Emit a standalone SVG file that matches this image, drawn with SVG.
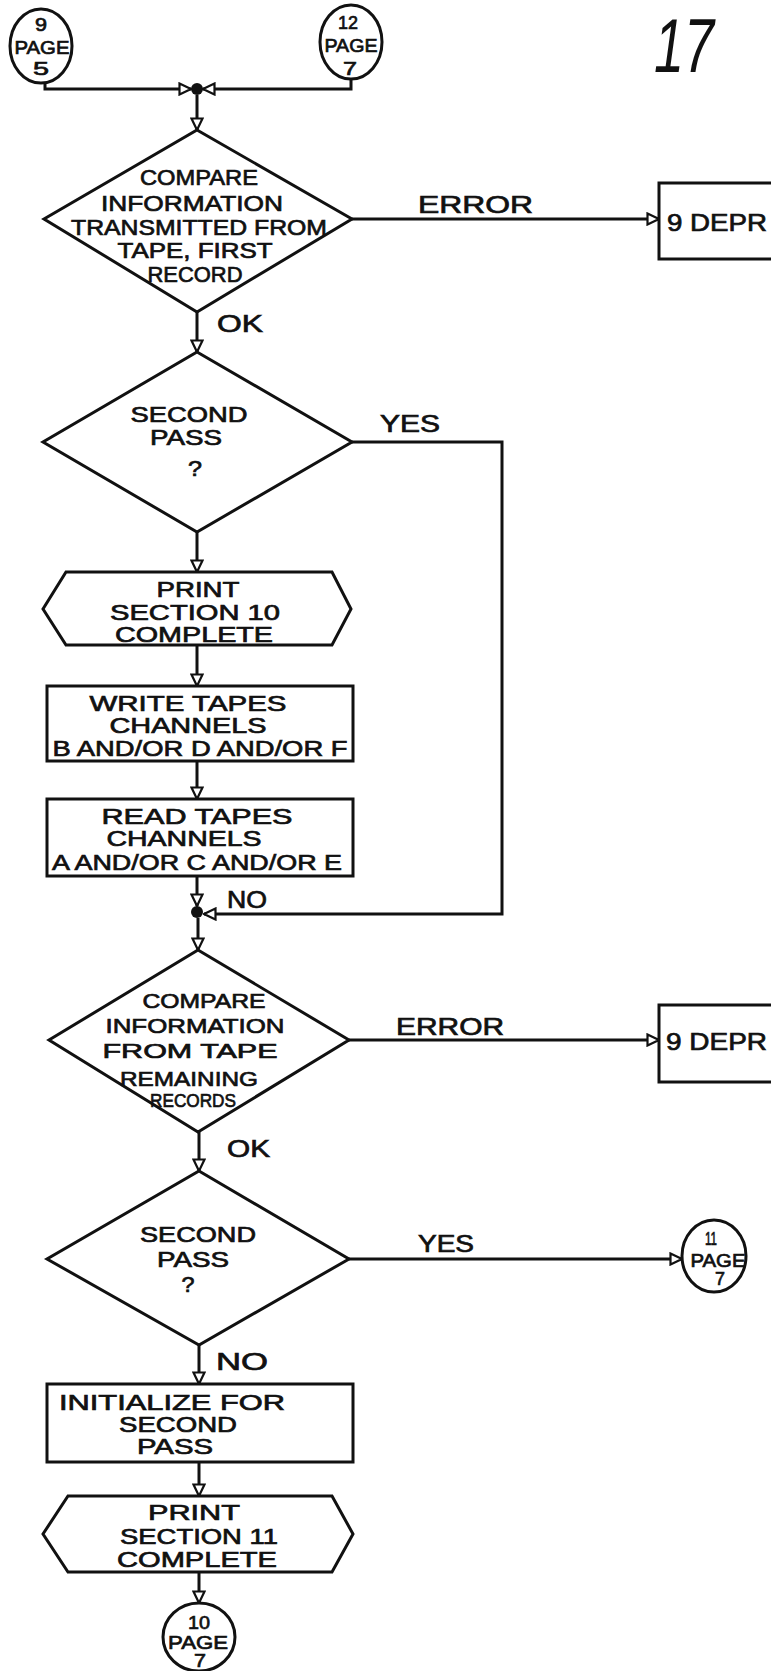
<svg xmlns="http://www.w3.org/2000/svg" width="771" height="1671" viewBox="0 0 771 1671">
<style>
.s{fill:none;stroke:#111;stroke-width:3;stroke-linejoin:miter}
.f{fill:#fff;stroke:#111;stroke-width:3}
.t{font-family:"Liberation Sans",Arial,sans-serif;font-size:22px;fill:#111;stroke:#111;stroke-width:0.7;text-anchor:middle}
.m{font-size:21px}
.c{font-size:19px}
.l{font-family:"Liberation Sans",Arial,sans-serif;font-size:24px;fill:#111;stroke:#111;stroke-width:0.7}
</style>
<defs>
<marker id="ah" viewBox="0 0 14 14" refX="13" refY="7" markerWidth="14" markerHeight="14" markerUnits="userSpaceOnUse" orient="auto">
<path d="M1.5,1.5 L13,7 L1.5,12.5 Z" fill="#fff" stroke="#111" stroke-width="2.2"/>
</marker>
</defs>
<rect x="0" y="0" width="771" height="1671" fill="#fff"/>

<g id="connectors">
<path class="s" d="M45,82 V89 H191" marker-end="url(#ah)"/>
<path class="s" d="M351,78 V89 H203" marker-end="url(#ah)"/>
<circle cx="197" cy="89" r="6" fill="#111"/>
<path class="s" d="M197,95 V130" marker-end="url(#ah)"/>
<path class="s" d="M352,219 H659" marker-end="url(#ah)"/>
<path class="s" d="M197,312 V352" marker-end="url(#ah)"/>
<path class="s" d="M352,442 H502 V914 H204" marker-end="url(#ah)"/>
<path class="s" d="M197,532 V572" marker-end="url(#ah)"/>
<path class="s" d="M197,645 V686" marker-end="url(#ah)"/>
<path class="s" d="M197,761 V799" marker-end="url(#ah)"/>
<path class="s" d="M197,876 V906" marker-end="url(#ah)"/>
<circle cx="197" cy="912" r="6" fill="#111"/>
<path class="s" d="M198,918 V950" marker-end="url(#ah)"/>
<path class="s" d="M349,1040 H659" marker-end="url(#ah)"/>
<path class="s" d="M199,1132 V1171" marker-end="url(#ah)"/>
<path class="s" d="M349,1259 H682" marker-end="url(#ah)"/>
<path class="s" d="M199,1345 V1384" marker-end="url(#ah)"/>
<path class="s" d="M199,1462 V1496" marker-end="url(#ah)"/>
<path class="s" d="M199,1572 V1603" marker-end="url(#ah)"/>
</g>

<g id="labels">
<text class="l" x="418" y="213" textLength="115" lengthAdjust="spacingAndGlyphs">ERROR</text>
<text class="l" x="217" y="332" textLength="46" lengthAdjust="spacingAndGlyphs">OK</text>
<text class="l" x="380" y="432" textLength="60" lengthAdjust="spacingAndGlyphs">YES</text>
<text class="l" x="227" y="908" textLength="40" lengthAdjust="spacingAndGlyphs">NO</text>
<text class="l" x="396" y="1035" textLength="108" lengthAdjust="spacingAndGlyphs">ERROR</text>
<text class="l" x="227" y="1157" textLength="43" lengthAdjust="spacingAndGlyphs">OK</text>
<text class="l" x="418" y="1252" textLength="56" lengthAdjust="spacingAndGlyphs">YES</text>
<text class="l" x="216" y="1370" textLength="52" lengthAdjust="spacingAndGlyphs">NO</text>
<text x="654" y="72" font-family="Liberation Sans, Arial, sans-serif" font-size="76" font-style="italic" fill="#111" textLength="60" lengthAdjust="spacingAndGlyphs">17</text>
</g>

<g id="c1">
<ellipse class="f" cx="41" cy="46" rx="31" ry="37"/>
<text class="t c" x="41" y="31" textLength="12" lengthAdjust="spacingAndGlyphs">9</text>
<text class="t c" x="42" y="54" textLength="55" lengthAdjust="spacingAndGlyphs">PAGE</text>
<text class="t c" x="41" y="75" textLength="16" lengthAdjust="spacingAndGlyphs">5</text>
</g>

<g id="c2">
<ellipse class="f" cx="351" cy="42" rx="31" ry="37"/>
<text class="t c" x="348" y="29" textLength="20" lengthAdjust="spacingAndGlyphs">12</text>
<text class="t c" x="351" y="52" textLength="53" lengthAdjust="spacingAndGlyphs">PAGE</text>
<text class="t c" x="350" y="75" textLength="14" lengthAdjust="spacingAndGlyphs">7</text>
</g>

<g id="d1">
<polygon class="f" points="197,130 352,219 197,312 44,219"/>
<text class="t" x="199" y="185" textLength="118" lengthAdjust="spacingAndGlyphs">COMPARE</text>
<text class="t" x="192" y="211" textLength="182" lengthAdjust="spacingAndGlyphs">INFORMATION</text>
<text class="t" x="199" y="235" textLength="256" lengthAdjust="spacingAndGlyphs">TRANSMITTED FROM</text>
<text class="t" x="195" y="258" textLength="155" lengthAdjust="spacingAndGlyphs">TAPE, FIRST</text>
<text class="t" x="195" y="282" textLength="95" lengthAdjust="spacingAndGlyphs">RECORD</text>
</g>

<g id="e1">
<rect class="f" x="659" y="183" width="140" height="76"/>
<text class="l" x="667" y="231" font-size="29" textLength="100" lengthAdjust="spacingAndGlyphs">9 DEPR</text>
</g>

<g id="d2">
<polygon class="f" points="197,352 352,442 197,532 43,442"/>
<text class="t" x="189" y="422" textLength="117" lengthAdjust="spacingAndGlyphs">SECOND</text>
<text class="t" x="186" y="445" textLength="72" lengthAdjust="spacingAndGlyphs">PASS</text>
<text class="t" x="195" y="476" font-size="26" textLength="14" lengthAdjust="spacingAndGlyphs">?</text>
</g>

<g id="h1">
<polygon class="f" points="66,572 332,572 351,609 332,645 66,645 43,609"/>
<text class="t" x="198" y="597" textLength="83" lengthAdjust="spacingAndGlyphs">PRINT</text>
<text class="t" x="195" y="620" textLength="170" lengthAdjust="spacingAndGlyphs">SECTION 10</text>
<text class="t" x="194" y="642" textLength="158" lengthAdjust="spacingAndGlyphs">COMPLETE</text>
</g>

<g id="b1">
<rect class="f" x="47" y="686" width="306" height="75"/>
<text class="t" x="188" y="711" textLength="197" lengthAdjust="spacingAndGlyphs">WRITE  TAPES</text>
<text class="t" x="188" y="733" textLength="157" lengthAdjust="spacingAndGlyphs">CHANNELS</text>
<text class="t" x="200" y="756" textLength="295" lengthAdjust="spacingAndGlyphs">B AND/OR  D AND/OR F</text>
</g>

<g id="b2">
<rect class="f" x="47" y="799" width="306" height="77"/>
<text class="t" x="197" y="824" textLength="191" lengthAdjust="spacingAndGlyphs">READ  TAPES</text>
<text class="t" x="184" y="846" textLength="155" lengthAdjust="spacingAndGlyphs">CHANNELS</text>
<text class="t" x="197" y="870" textLength="290" lengthAdjust="spacingAndGlyphs">A AND/OR C AND/OR E</text>
</g>

<g id="d3">
<polygon class="f" points="198,950 349,1040 198,1132 49,1040"/>
<text class="t m" x="204" y="1008" textLength="123" lengthAdjust="spacingAndGlyphs">COMPARE</text>
<text class="t m" x="195" y="1033" textLength="179" lengthAdjust="spacingAndGlyphs">INFORMATION</text>
<text class="t m" x="190" y="1058" textLength="175" lengthAdjust="spacingAndGlyphs">FROM  TAPE</text>
<text class="t m" x="189" y="1086" textLength="138" lengthAdjust="spacingAndGlyphs">REMAINING</text>
<text class="t c" x="193" y="1107" textLength="86" lengthAdjust="spacingAndGlyphs">RECORDS</text>
</g>

<g id="e2">
<rect class="f" x="659" y="1005" width="140" height="77"/>
<text class="l" x="666" y="1050" font-size="27" textLength="101" lengthAdjust="spacingAndGlyphs">9 DEPR</text>
</g>

<g id="d4">
<polygon class="f" points="199,1171 349,1259 199,1345 47,1259"/>
<text class="t" x="198" y="1242" textLength="116" lengthAdjust="spacingAndGlyphs">SECOND</text>
<text class="t" x="193" y="1267" textLength="72" lengthAdjust="spacingAndGlyphs">PASS</text>
<text class="t" x="188" y="1292" font-size="25" textLength="13" lengthAdjust="spacingAndGlyphs">?</text>
</g>

<g id="c3">
<ellipse class="f" cx="714" cy="1256" rx="32" ry="36"/>
<text class="t c" x="711" y="1245" textLength="12" lengthAdjust="spacingAndGlyphs">11</text>
<text class="t c" x="718" y="1267" textLength="55" lengthAdjust="spacingAndGlyphs">PAGE</text>
<text class="t c" x="720" y="1285" textLength="10" lengthAdjust="spacingAndGlyphs">7</text>
</g>

<g id="b3">
<rect class="f" x="47" y="1384" width="306" height="78"/>
<text class="t" x="172" y="1410" textLength="226" lengthAdjust="spacingAndGlyphs">INITIALIZE  FOR</text>
<text class="t" x="178" y="1432" textLength="118" lengthAdjust="spacingAndGlyphs">SECOND</text>
<text class="t" x="175" y="1454" textLength="76" lengthAdjust="spacingAndGlyphs">PASS</text>
</g>

<g id="h2">
<polygon class="f" points="68,1496 332,1496 353,1534 332,1572 68,1572 43,1534"/>
<text class="t" x="194" y="1520" textLength="92" lengthAdjust="spacingAndGlyphs">PRINT</text>
<text class="t" x="199" y="1544" textLength="158" lengthAdjust="spacingAndGlyphs">SECTION 11</text>
<text class="t" x="197" y="1567" textLength="160" lengthAdjust="spacingAndGlyphs">COMPLETE</text>
</g>

<g id="c4">
<ellipse class="f" cx="199" cy="1637" rx="36" ry="34"/>
<text class="t c" x="199" y="1629" textLength="22" lengthAdjust="spacingAndGlyphs">10</text>
<text class="t c" x="198" y="1649" textLength="60" lengthAdjust="spacingAndGlyphs">PAGE</text>
<text class="t c" x="200" y="1667" textLength="12" lengthAdjust="spacingAndGlyphs">7</text>
</g>
</svg>
